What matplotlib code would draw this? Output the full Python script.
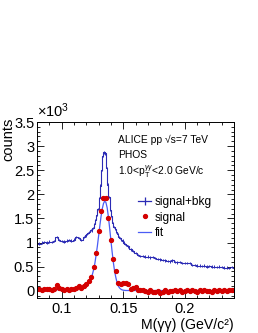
import numpy as np
import matplotlib
matplotlib.use('Agg')
import matplotlib.pyplot as plt
from matplotlib.lines import Line2D
from matplotlib.ticker import MultipleLocator

plt.rcParams['font.family'] = ['Liberation Sans', 'DejaVu Sans']
plt.rcParams['mathtext.fontset'] = 'custom'
plt.rcParams['mathtext.rm'] = 'Liberation Sans'
plt.rcParams['mathtext.it'] = 'Liberation Sans:italic'

# -------------------------------------------------------------------------------
# Datos (en unidades de 10^3 cuentas)
# signal+bkg: bines de 2 MeV, salvo la zona del pico (1 MeV)
edges_bkg = np.round(np.concatenate([np.arange(0.079, 0.1190, 0.002),
                                     np.arange(0.119, 0.1530, 0.001),
                                     np.arange(0.153, 0.2411, 0.002)]), 4)

sig_bkg = [0.99, 0.98, 1.00, 1.01, 1.00, 1.02, 1.01, 1.03, 1.12, 1.05,
           1.03, 1.02, 1.04, 1.05, 1.04, 1.06, 1.12, 1.10, 1.05, 1.12,
           # zona del pico, 1 MeV
           1.15, 1.18, 1.20, 1.22, 1.26, 1.25, 1.30, 1.38, 1.46, 1.58,
           1.70, 1.92, 2.18, 2.50, 2.80, 2.87, 2.85, 2.55, 2.20, 1.95,
           1.68, 1.55, 1.40, 1.32, 1.28, 1.22, 1.18, 1.12, 1.10, 1.06,
           1.04, 1.00, 0.97, 0.95,
           # 2 MeV
           0.92, 0.86, 0.82, 0.78, 0.74, 0.72, 0.72, 0.71, 0.71, 0.69,
           0.70, 0.68, 0.66, 0.65, 0.64, 0.63, 0.62, 0.61, 0.63, 0.60,
           0.59, 0.60, 0.58, 0.58, 0.57, 0.58, 0.53, 0.54, 0.52, 0.52,
           0.51, 0.52, 0.50, 0.51, 0.50, 0.50, 0.49, 0.50, 0.49, 0.48,
           0.48, 0.47, 0.49, 0.48]

# signal: bines de 2 MeV
mass = np.round(np.arange(0.080, 0.2401, 0.002), 3)
signal = [0.03, 0.04, 0.02, 0.03, 0.04, 0.03, 0.02, 0.04, 0.11, 0.05,
          0.03, 0.02, 0.03, 0.02, 0.04, 0.03, 0.06, 0.10, 0.05, 0.09,
          0.14, 0.20, 0.29, 0.50, 0.79, 1.24, 1.65, 1.93, 1.92, 1.50,
          1.06, 0.66, 0.42, 0.17, 0.15, 0.17, 0.16, 0.15, 0.03, 0.06,
          0.07, 0.02, 0.01, 0.02, 0.00, -0.02, 0.01, -0.03, -0.02, 0.00,
          -0.04, -0.02, 0.01, -0.03, -0.01, 0.00, 0.02, -0.01, 0.01, -0.02,
          0.00, 0.01, -0.01, 0.02, 0.00, -0.02, 0.01, 0.00, 0.01, -0.01,
          0.00, -0.03, 0.01, 0.00, 0.02, -0.01, 0.01, 0.00, 0.02, 0.01,
          0.02]

fit_x = [0.080, 0.090, 0.100, 0.105, 0.110, 0.113, 0.115, 0.117, 0.119, 0.121,
         0.122, 0.123, 0.124, 0.125, 0.126, 0.127, 0.128, 0.129, 0.130, 0.131,
         0.132, 0.133, 0.134, 0.135, 0.136, 0.137, 0.138, 0.139, 0.140, 0.141,
         0.142, 0.143, 0.144, 0.145, 0.146, 0.147, 0.148, 0.149, 0.150, 0.152,
         0.155, 0.160, 0.180, 0.200, 0.220, 0.240]
fit_y = [0.02, 0.02, 0.025, 0.03, 0.04, 0.05, 0.065, 0.08, 0.11, 0.14,
         0.17, 0.21, 0.26, 0.34, 0.44, 0.57, 0.74, 0.92, 1.13, 1.34,
         1.54, 1.70, 1.81, 1.86, 1.83, 1.72, 1.53, 1.30, 1.05, 0.81,
         0.59, 0.41, 0.28, 0.17, 0.10, 0.06, 0.035, 0.02, 0.012, 0.006,
         0.005, 0.005, 0.005, 0.005, 0.005, 0.005]

blue = '#2b2bb5'
red = '#d40000'
fit_blue = '#4a5cf5'

# -------------------------------------------------------------------------------
fig = plt.figure(figsize=(2.58, 3.33), dpi=100)
ax = fig.add_axes([37/258, 35/333, 197/258, 176/333])

centers = (edges_bkg[:-1] + edges_bkg[1:]) / 2
half_w = np.diff(edges_bkg) / 2
ax.stairs(sig_bkg, edges_bkg, color=blue, lw=0.8)
ax.errorbar(centers, sig_bkg, xerr=half_w, yerr=0.025, fmt='none',
            ecolor=blue, elinewidth=0.7)
ax.plot(fit_x, fit_y, color=fit_blue, lw=0.9)
ax.plot(mass, signal, 'o', color=red, ms=2.8, mec=red)

ax.set_xlim(0.08, 0.24)
ax.set_ylim(-0.15, 3.5)
ax.xaxis.set_minor_locator(MultipleLocator(0.01))
ax.yaxis.set_minor_locator(MultipleLocator(0.1))
ax.set_xticks([0.1, 0.15, 0.2])
ax.set_xticklabels(['0.1', '0.15', '0.2'])
ax.set_yticks([0, 0.5, 1, 1.5, 2, 2.5, 3, 3.5])
ax.set_yticklabels(['0', '0.5', '1', '1.5', '2', '2.5', '3', '3.5'])
ax.tick_params(which='both', direction='in', top=True, right=True,
               labelsize=10.5, width=0.6)
ax.tick_params(which='major', length=5)
ax.tick_params(which='minor', length=2.5)
ax.tick_params(axis='x', pad=3)
ax.tick_params(axis='y', pad=2)
for s in ax.spines.values():
    s.set_linewidth(0.7)

fig.text(37/258, 1-111/333, r'$\times$10$^{3}$', fontsize=10.5, va='center')
fig.text(1/258, 1-118/333, 'counts', rotation=90, fontsize=10.5,
         ha='left', va='top')
fig.text(234/258, 1-332/333, 'M(γγ) (GeV/c²)', fontsize=10.2,
         ha='right', va='bottom')

fig.text(118/258, 1-140/333, 'ALICE pp √s=7 TeV', fontsize=7.4,
         va='center')
fig.text(118/258, 1-155/333, 'PHOS', fontsize=7.4, va='center')
fig.text(118/258, 1-172/333,
         r'1.0<p$_{\mathrm{T}}^{\gamma\gamma}$<2.0 GeV/c', fontsize=7.4,
         va='center')

handles = [Line2D([], [], color=blue, lw=0.9, marker='|', ms=6, mew=0.9),
           Line2D([], [], color=red, ls='none', marker='o', ms=2.8),
           Line2D([], [], color=fit_blue, lw=0.9)]
ax.legend(handles, ['signal+bkg', 'signal', 'fit'], loc='upper left',
          bbox_to_anchor=(138/258, 1-196/333),
          bbox_transform=fig.transFigure, frameon=False, fontsize=8.6,
          handlelength=1.1, handletextpad=0.3, labelspacing=0.3,
          borderpad=0, borderaxespad=0)

plt.savefig('out.png', dpi=100)
